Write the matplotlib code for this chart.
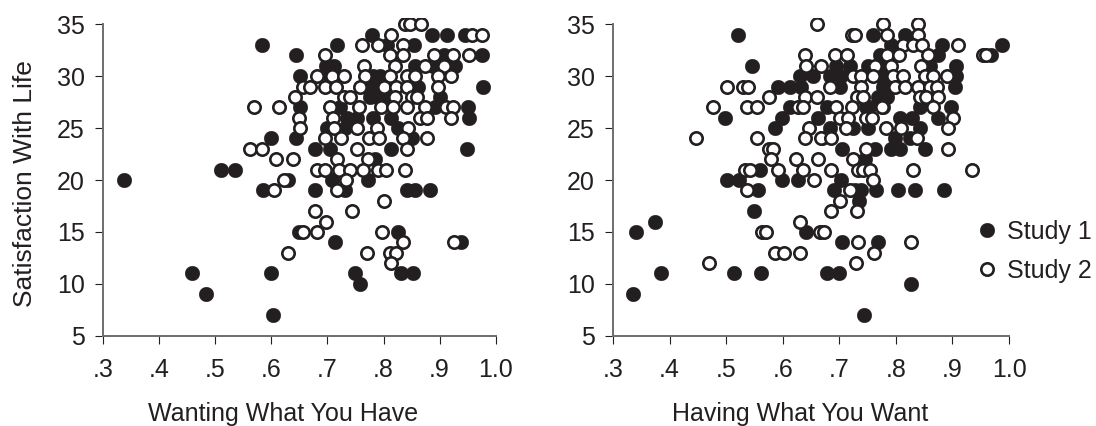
import matplotlib
matplotlib.use("Agg")
import matplotlib.pyplot as plt
from matplotlib.patches import Rectangle

plt.rcParams['font.family'] = ['Liberation Sans', 'DejaVu Sans']

INK = '#231f20'
AXIS = '#6d6e71'

x_ticks = [.3, .4, .5, .6, .7, .8, .9, 1.0]
x_tick_labels = ['.3', '.4', '.5', '.6', '.7', '.8', '.9', '1.0']
y_ticks = [5, 10, 15, 20, 25, 30, 35]

# wanting what you have, study 1
want1_x = [.779, .886, .914, .945, .584, .718, .806, .855, .644, .907, .975,
           .698, .711, .856, .889, .927, .651, .705, .772, .782, .794,
           .768, .779, .788, .798, .862, .978, .776, .788, .800, .901, .651, .722, .892, .951,
           .735, .752, .782, .814, .953, .699, .731, .826, .599, .644, .850,
           .678, .705, .814, .949, .785, .511, .535,
           .338, .630, .708, .772, .586, .678, .732, .841, .856, .883,
           .650, .826, .713, .938, .458, .599, .749, .832, .853, .759, .484, .603]
want1_y = [34, 34, 34, 34, 33, 33, 33, 33, 32, 32, 32,
           31, 31, 31, 31, 31, 30, 30, 30, 30, 30,
           29, 29, 29, 29, 29, 29, 28, 28, 28, 28, 27, 27, 27, 27,
           26, 26, 26, 26, 26, 25, 25, 25, 24, 24, 24,
           23, 23, 23, 23, 22, 21, 21,
           20, 20, 20, 20, 19, 19, 19, 19, 19, 19,
           15, 15, 14, 14, 11, 11, 11, 11, 11, 10, 9, 7]

# wanting what you have, study 2
want2_x = [.838, .848, .866, .813, .957, .976, .761, .790, .834,
           .696, .811, .834, .890, .924, .953, .766, .820, .874, .908,
           .681, .709, .730, .767, .811, .841, .856, .898, .921,
           .657, .669, .696, .716, .758, .801, .823, .841, .898,
           .643, .730, .741, .820, .850, .860,
           .569, .613, .705, .757, .795, .817, .842, .874, .912, .924,
           .649, .710, .865, .877, .920, .651, .712, .753, .789, .844,
           .696, .724, .775, .792, .834, .878, .562, .583, .752, .841,
           .608, .638, .718, .772, .681, .696, .721, .741, .764, .791, .805, .839,
           .623, .734, .604, .718, .801, .678, .743, .698,
           .656, .681, .797, .834, .926, .629, .770, .811, .823, .814]
want2_y = [35, 35, 35, 34, 34, 34, 33, 33, 33,
           32, 32, 32, 32, 32, 32, 31, 31, 31, 31,
           30, 30, 30, 30, 30, 30, 30, 30, 30,
           29, 29, 29, 29, 29, 29, 29, 29, 29,
           28, 28, 28, 28, 28, 28,
           27, 27, 27, 27, 27, 27, 27, 27, 27, 27,
           26, 26, 26, 26, 26, 25, 25, 25, 25, 25,
           24, 24, 24, 24, 24, 24, 23, 23, 23, 23,
           22, 22, 22, 22, 21, 21, 21, 21, 21, 21, 21, 21,
           20, 20, 19, 19, 18, 17, 17, 16,
           15, 15, 15, 14, 14, 13, 13, 13, 13, 12]

# having what you want, study 1
have1_x = [.521, .760, .816, .792, .881, .987, .772, .875, .969,
           .545, .695, .719, .751, .785, .860, .906, .630, .654, .683, .703, .772, .782, .907,
           .592, .613, .633, .701, .778, .790, .904, .768, .775, .785,
           .613, .678, .748, .752, .778, .842, .897, .498, .598, .663, .755, .807, .828, .875,
           .586, .683, .725, .751, .842, .669, .798, .825,
           .704, .763, .792, .807, .851, .745, .560,
           .502, .523, .599, .627, .703, .557, .690, .728, .738, .765, .804, .834, .885,
           .735, .549, .374, .341, .642, .705, .769,
           .385, .514, .561, .678, .700, .826, .336, .743]
have1_y = [34, 34, 34, 33, 33, 33, 32, 32, 32,
           31, 31, 31, 31, 31, 31, 31, 30, 30, 30, 30, 30, 30, 30,
           29, 29, 29, 29, 29, 29, 29, 28, 28, 28,
           27, 27, 27, 27, 27, 27, 27, 26, 26, 26, 26, 26, 26, 26,
           25, 25, 25, 25, 25, 24, 24, 24,
           23, 23, 23, 23, 23, 22, 21,
           20, 20, 20, 20, 20, 19, 19, 19, 19, 19, 19, 19, 19,
           18, 17, 16, 15, 15, 14, 14,
           11, 11, 11, 11, 11, 10, 9, 7]

# having what you want, study 2
have2_x = [.660, .778, .840, .722, .728, .784, .840, .813, .831, .847, .910,
           .639, .693, .714, .785, .806, .857, .954, .959, .642, .667, .763, .791, .845,
           .724, .739, .760, .795, .812, .851, .866, .890,
           .501, .529, .539, .683, .738, .798, .816, .840, .860, .872,
           .576, .640, .661, .731, .742, .842, .854, .875,
           .477, .536, .555, .627, .635, .695, .722, .775, .866,
           .701, .715, .748, .757, .901, .646, .712, .782, .809, .893,
           .447, .554, .640, .667, .686, .838, .575, .583, .748, .893,
           .579, .623, .663, .725, .533, .542, .592, .635, .686, .733, .742, .755, .831, .935,
           .655, .760, .536, .719, .701, .686, .731, .630,
           .563, .570, .666, .673, .733, .826, .587, .603, .630, .762, .470, .729]
have2_y = [35, 35, 35, 34, 34, 34, 34, 33, 33, 33, 33,
           32, 32, 32, 32, 32, 32, 32, 32, 31, 31, 31, 31, 31,
           30, 30, 30, 30, 30, 30, 30, 30,
           29, 29, 29, 29, 29, 29, 29, 29, 29, 29,
           28, 28, 28, 28, 28, 28, 28, 28,
           27, 27, 27, 27, 27, 27, 27, 27, 27,
           26, 26, 26, 26, 26, 25, 25, 25, 25, 25,
           24, 24, 24, 24, 24, 24, 23, 23, 23, 23,
           22, 22, 22, 22, 21, 21, 21, 21, 21, 21, 21, 21, 21, 21,
           20, 20, 19, 19, 18, 17, 17, 16,
           15, 15, 15, 15, 14, 14, 13, 13, 13, 13, 12, 12]

W, H = 1096, 426
FS = 18
fig = plt.figure(figsize=(W / 100, H / 100), dpi=100)
ax1 = fig.add_axes([103 / W, 1 - 335.7 / H, 392.7 / W, 311.4 / H])
ax2 = fig.add_axes([613 / W, 1 - 335.7 / H, 396 / W, 311.4 / H])


def draw(ax, x1, y1, x2, y2, xlabel, label_x):
    # dots run a little past the axes, the top row is cut off in the original
    clip = Rectangle((-.1, -.1), 1.2, 1.12, transform=ax.transAxes)
    l1, = ax.plot(x1, y1, 'o', ms=10.6, mfc=INK, mec=INK, mew=0.2, zorder=3, label='Study 1')
    l2, = ax.plot(x2, y2, 'o', ms=8.9, mfc='white', mec=INK, mew=1.9, zorder=4, label='Study 2')
    l1.set_clip_path(clip)
    l2.set_clip_path(clip)
    ax.set_xlim(.3, 1.0)
    ax.set_ylim(5, 35)
    ax.set_xticks(x_ticks)
    ax.set_xticklabels(x_tick_labels)
    ax.set_yticks(y_ticks)
    ax.tick_params(length=5.7, width=0.8, color=INK, labelsize=FS, labelcolor=INK)
    ax.tick_params(axis='x', pad=10)
    ax.tick_params(axis='y', pad=7.5)
    ax.spines['top'].set_visible(False)
    ax.spines['right'].set_visible(False)
    ax.spines['left'].set_color(AXIS)
    ax.spines['bottom'].set_color(AXIS)
    ax.spines['left'].set_linewidth(1.4)
    ax.spines['bottom'].set_linewidth(1.4)
    ax.set_xlabel(xlabel, fontsize=FS, color=INK)
    ax.xaxis.set_label_coords(label_x, -.212)


draw(ax1, want1_x, want1_y, want2_x, want2_y, 'Wanting What You Have', .458)
draw(ax2, have1_x, have1_y, have2_x, have2_y, 'Having What You Want', .472)
ax1.set_ylabel('Satisfaction With Life', fontsize=19, color=INK)
ax1.yaxis.set_label_coords(-.168, .487)

ax2.legend(loc='upper left', bbox_to_anchor=(974 / W, 1 - 220 / H), bbox_transform=fig.transFigure,
           frameon=False, fontsize=FS, labelcolor=INK, handletextpad=0.3, labelspacing=0.6,
           handlelength=1, borderpad=0, borderaxespad=0)

fig.savefig('out.png', dpi=100)
